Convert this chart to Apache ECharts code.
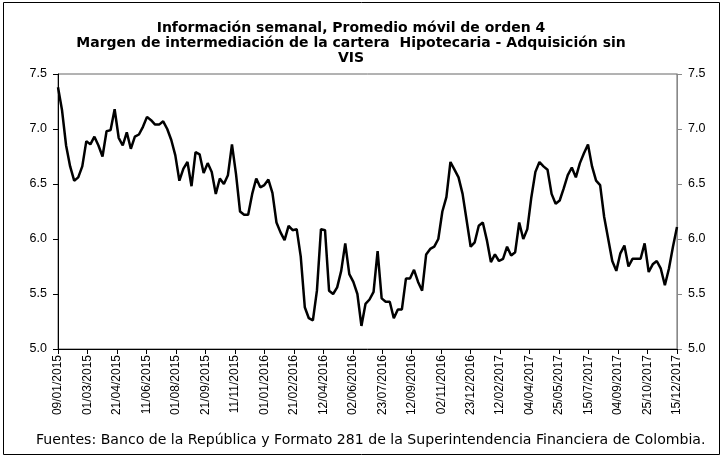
<!DOCTYPE html>
<html>
<head>
<meta charset="utf-8">
<script src="https://cdn.jsdelivr.net/npm/echarts@6/dist/echarts.min.js"></script>
<style>
  html, body { margin: 0; padding: 0; background: #fff; }
  #chart { width: 723px; height: 458px; }
</style>
</head>
<body>
<div id="chart"></div>
<script>
// titulo y fuente
var titulo = 'Información semanal, Promedio móvil de orden 4\nMargen de intermediación de la cartera  Hipotecaria - Adquisición sin\nVIS'
var fuente = 'Fuentes: Banco de la República y Formato 281 de la Superintendencia Financiera de Colombia.'

// etiquetas del eje x (cada 51 dias desde 09/01/2015)
var etiquetasX = ['09/01/2015','01/03/2015','21/04/2015','11/06/2015','01/08/2015','21/09/2015',
  '11/11/2015','01/01/2016','21/02/2016','12/04/2016','02/06/2016','23/07/2016','12/09/2016',
  '02/11/2016','23/12/2016','12/02/2017','04/04/2017','25/05/2017','15/07/2017','04/09/2017',
  '25/10/2017','15/12/2017']
var pasoDias = 51

// eje y
var yMin = 5.0
var yMax = 7.5
var yPaso = 0.5

// margen semanal (%), una observacion cada 7 dias desde 09/01/2015
var margen = [
  7.38, 7.17, 6.85, 6.66, 6.53, 6.56, 6.66, 6.89, 6.86, 6.93,
  6.85, 6.75, 6.98, 6.99, 7.18, 6.92, 6.85, 6.97, 6.82, 6.93,
  6.95, 7.02, 7.11, 7.08, 7.04, 7.04, 7.07, 7.00, 6.90, 6.76,
  6.53, 6.64, 6.70, 6.48, 6.79, 6.77, 6.60, 6.69, 6.61, 6.41,
  6.55, 6.50, 6.58, 6.86, 6.59, 6.25, 6.22, 6.22, 6.41, 6.55,
  6.47, 6.49, 6.54, 6.42, 6.15, 6.06, 5.99, 6.12, 6.08, 6.09,
  5.84, 5.38, 5.28, 5.26, 5.53, 6.09, 6.08, 5.53, 5.50, 5.56,
  5.71, 5.96, 5.68, 5.61, 5.50, 5.21, 5.41, 5.45, 5.52, 5.89,
  5.46, 5.43, 5.43, 5.28, 5.36, 5.36, 5.64, 5.64, 5.72, 5.61,
  5.53, 5.86, 5.91, 5.93, 6.00, 6.25, 6.38, 6.70, 6.63, 6.56,
  6.41, 6.17, 5.93, 5.97, 6.12, 6.15, 5.99, 5.79, 5.86, 5.80,
  5.82, 5.93, 5.85, 5.88, 6.15, 6.00, 6.09, 6.38, 6.61, 6.70,
  6.66, 6.63, 6.41, 6.32, 6.35, 6.46, 6.58, 6.65, 6.56, 6.69,
  6.78, 6.86, 6.66, 6.53, 6.49, 6.20, 6.00, 5.80, 5.71, 5.87,
  5.94, 5.75, 5.82, 5.82, 5.82, 5.96, 5.70, 5.77, 5.80, 5.73,
  5.58, 5.73, 5.93, 6.11
]

var fuenteEjes = 'Liberation Sans, Arial, sans-serif'
var fuenteTitulo = 'DejaVu Sans, Verdana, sans-serif'

var chart = echarts.init(document.getElementById('chart'), null, { renderer: 'canvas' })

var puntos = margen.map(function (v, i) { return [i * 7, v] })

var ejeY = function (pos, colorLinea) {
  return {
    type: 'value',
    position: pos,
    min: yMin,
    max: yMax,
    interval: yPaso,
    splitLine: { show: false },
    axisLine: { show: true, lineStyle: { color: colorLinea, width: 1 } },
    axisTick: { show: true, length: 5, lineStyle: { color: colorLinea } },
    axisLabel: {
      color: '#000',
      fontSize: 12.5,
      fontFamily: fuenteEjes,
      margin: 11,
      formatter: function (v) { return v.toFixed(1) }
    }
  }
}

chart.setOption({
  animation: false,
  backgroundColor: '#fff',
  title: {
    text: titulo,
    left: 346,
    top: 16,
    textAlign: 'center',
    textStyle: {
      fontFamily: fuenteTitulo,
      fontSize: 14,
      fontWeight: 'bold',
      color: '#000',
      lineHeight: 15
    }
  },
  grid: {
    left: 58,
    right: 46,
    top: 74,
    bottom: 109,
    show: true,
    borderColor: '#666',
    borderWidth: 1
  },
  xAxis: {
    type: 'value',
    min: 0,
    max: pasoDias * (etiquetasX.length - 1),
    interval: pasoDias,
    splitLine: { show: false },
    axisLine: { onZero: false, lineStyle: { color: '#000', width: 1 } },
    axisTick: { show: true, length: 5, lineStyle: { color: '#000' } },
    axisLabel: {
      rotate: 90,
      color: '#000',
      fontSize: 12,
      fontFamily: fuenteEjes,
      margin: 6,
      formatter: function (v) { return etiquetasX[Math.round(v / pasoDias)] || '' }
    }
  },
  yAxis: [ejeY('left', '#000'), ejeY('right', '#888')],
  series: [{
    type: 'line',
    data: puntos,
    showSymbol: false,
    symbol: 'none',
    lineStyle: { color: '#000', width: 2.5 }
  }],
  graphic: [
    {
      type: 'rect',
      shape: { x: 3.5, y: 2.5, width: 716, height: 452 },
      style: { fill: null, stroke: '#000', lineWidth: 1 },
      silent: true
    },
    {
      type: 'text',
      left: 36,
      top: 433,
      style: { text: fuente, fill: '#000', fontSize: 14.1, fontFamily: fuenteTitulo }
    }
  ]
})
</script>
</body>
</html>
